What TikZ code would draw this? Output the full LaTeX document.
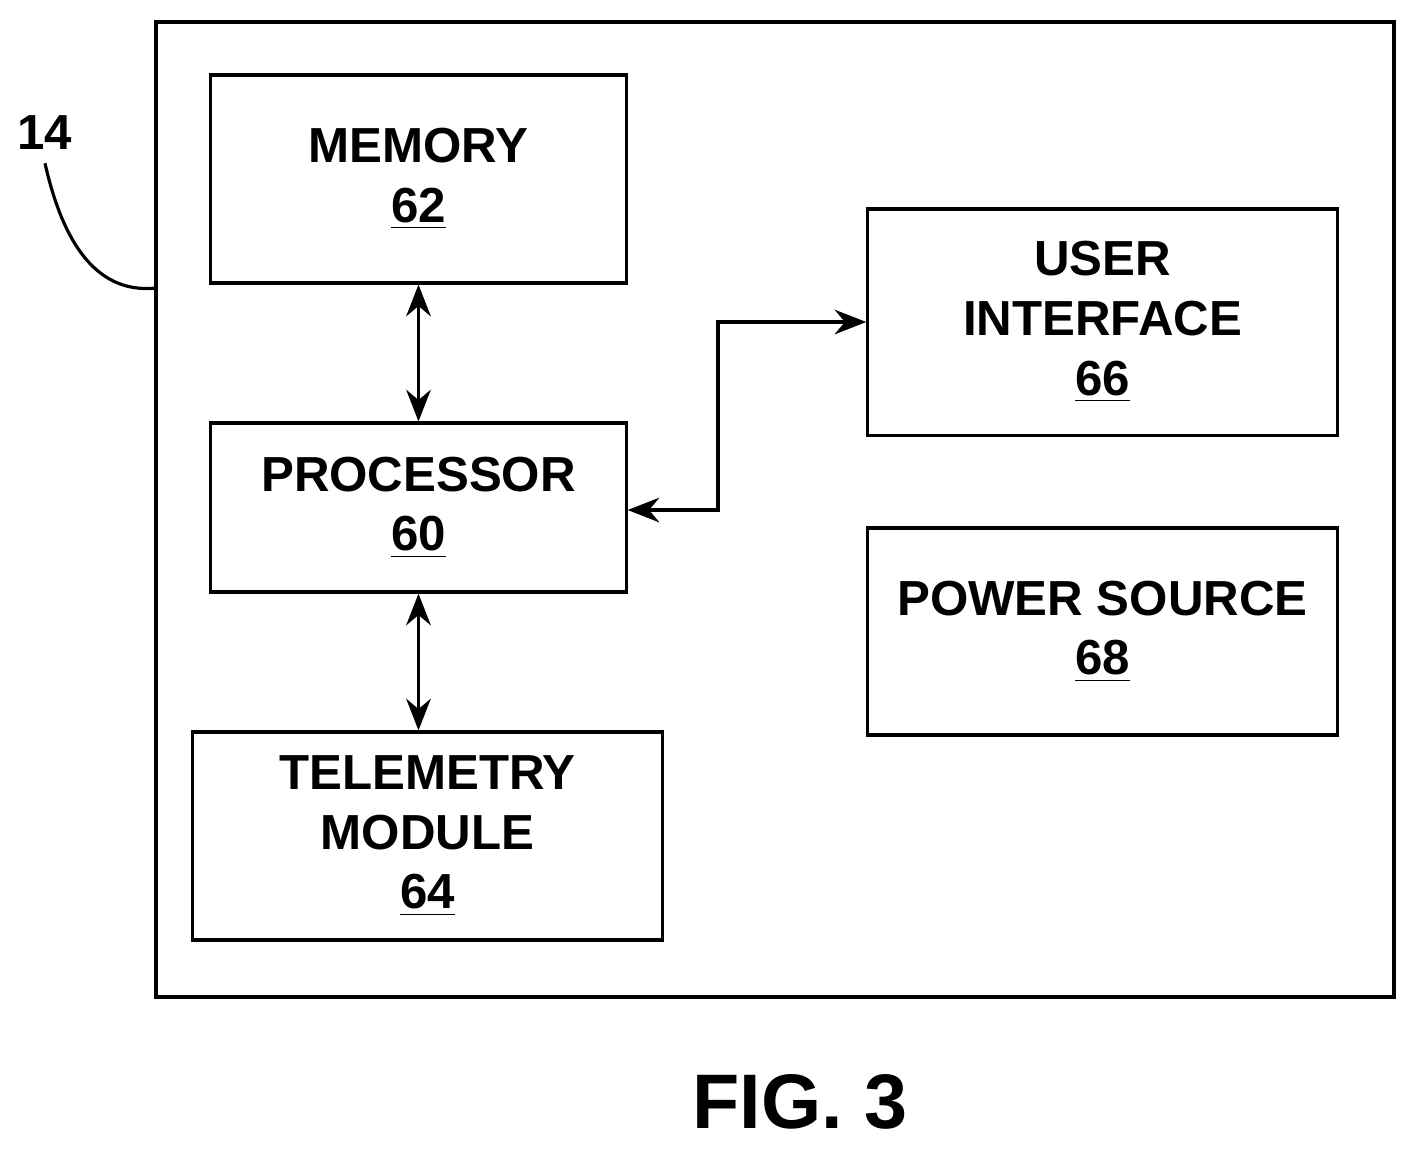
\documentclass[tikz,border=0pt]{standalone}
\usepackage{fontspec}
\setmainfont{Liberation Sans}
\usetikzlibrary{positioning,arrows.meta}
\begin{document}
\begin{tikzpicture}[x=0.01cm,y=-0.01cm, line width=0.9pt,
  blk/.style={draw, align=center, font=\fontsize{14}{17}\selectfont\bfseries},
  conn/.style={{Stealth[length=9pt,width=7pt]}-{Stealth[length=9pt,width=7pt]}, line width=0.9pt}]
\useasboundingbox (0,0) rectangle (1417,1150);

% Frame
\draw (156,22) rectangle (1394,997);

% Blocks
\node[blk, minimum width=4.15cm, minimum height=2.08cm] (mem) at (418.5,179) {MEMORY\\\underline{62}};
\node[blk, minimum width=4.15cm, minimum height=1.69cm] (proc) at (418.5,507.5) {PROCESSOR\\\underline{60}};
\node[blk, minimum width=4.69cm, minimum height=2.08cm] (tel) at (427.5,836) {TELEMETRY\\MODULE\\\underline{64}};
\node[blk, minimum width=4.69cm, minimum height=2.26cm] (ui) at (1102.5,322) {USER\\INTERFACE\\\underline{66}};
\node[blk, minimum width=4.69cm, minimum height=2.07cm] (pow) at (1102.5,631.5) {POWER SOURCE\\\underline{68}};

% Reference label
\node[font=\fontsize{14}{17}\selectfont\bfseries] (ref) at (45,133) {14};
\coordinate (frameL) at (156,288);
\draw (ref.south) .. controls (60,230) and (90,295) .. (frameL);

% Connectors
\draw[conn] (mem.south) -- (proc.north);
\draw[conn] (proc.south) -- (proc.south |- tel.north);
\draw[conn] (proc.east |- 0,510) -| (718,322) -- (ui.west);

% Caption
\node[font=\fontsize{22}{26}\selectfont\bfseries] (fig) at (800,1102) {FIG. 3};
\end{tikzpicture}
\end{document}
